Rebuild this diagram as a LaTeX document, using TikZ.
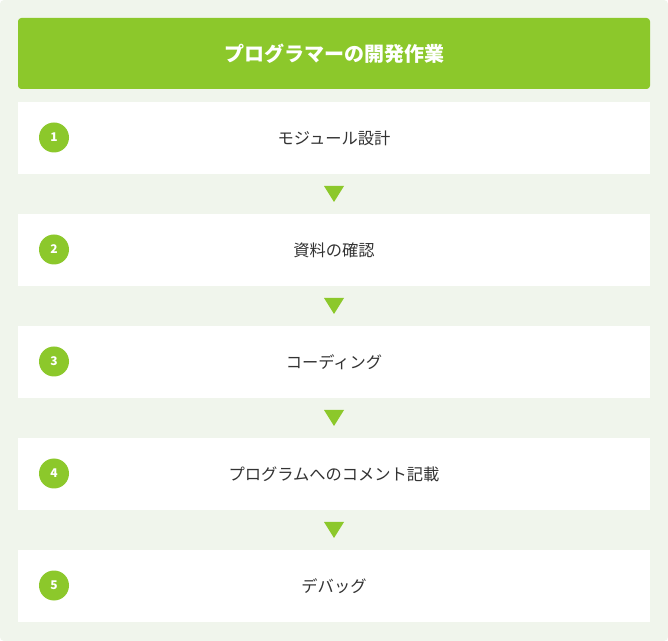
\documentclass[tikz,border=0pt]{standalone}
\usepackage{fontspec}
\setmainfont{Noto Sans CJK JP}
\definecolor{bgc}{HTML}{F0F5EC}
\definecolor{grn}{HTML}{8CC82B}
\definecolor{txt}{HTML}{333333}
\tikzset{
  px/.style={x=0.75pt,y=-0.75pt},
  stepbox/.style={fill=white,draw=none},
  numcirc/.style={circle,fill=grn,minimum size=22.5pt,inner sep=0pt,text=white,font=\bfseries\fontsize{9}{9}\selectfont},
  steptext/.style={text=txt,font=\fontsize{12.2}{14}\selectfont,inner sep=0pt},
  tri/.style={fill=grn,draw=none}
}
\begin{document}
\begin{tikzpicture}[px]
\useasboundingbox (0,0) rectangle (668,641);
\fill[bgc,rounded corners=3pt] (0,0) rectangle (668,641);
\fill[grn,rounded corners=2.5pt] (18,18) rectangle (650,89);
\node[text=white,font=\bfseries\fontsize{15}{18}\selectfont,inner sep=0pt] (title) at (334,53.5) {プログラマーの開発作業};
\foreach \i/\t/\y in {1/モジュール設計/102,2/資料の確認/214,3/コーディング/326,4/プログラムへのコメント記載/438,5/デバッグ/550}{
  \fill[stepbox] (18,\y) rectangle (650,\y+72);
  \node[numcirc] (n\i) at (54,\y+35.5) {\i};
  \node[steptext] (s\i) at (334,\y+36) {\t};
}
\foreach \y in {186,298,410,522}{
  \fill[tri] (324,\y) -- (344,\y) -- (334,\y+16) -- cycle;
}
\end{tikzpicture}
\end{document}
